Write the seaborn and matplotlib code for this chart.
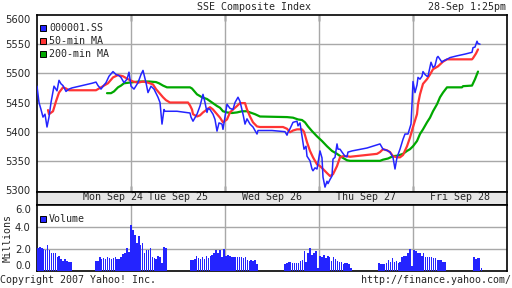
import numpy as np
import pandas as pd
import matplotlib
matplotlib.use("Agg")
import matplotlib.pyplot as plt
from matplotlib.patches import Rectangle
import seaborn as sns

# ---------------- data ----------------
# time axis in chart slots: one trading day = 94 slots, 5 days shown
day_labels = ["Mon Sep 24", "Tue Sep 25", "Wed Sep 26", "Thu Sep 27", "Fri Sep 28"]
day_label_pos = [76, 141, 235, 329, 423]
day_bounds = [94, 188, 282, 376]

price_t = [0, 2, 4, 6, 8, 10, 12, 14, 17, 20, 22, 24, 26, 29, 32, 35, 40, 45, 50, 55,
           59, 61, 64, 67, 69, 72, 76, 79, 82, 84, 87, 90, 92, 94, 97, 101, 104, 106, 109,
           111, 114, 117, 121, 123, 125, 127, 128, 140, 153, 154, 156, 160, 163, 166, 168,
           170, 171, 173, 176, 178, 180, 182, 185, 186, 190, 193, 196, 198, 201, 203, 206,
           208, 210, 213, 216, 220, 221, 235, 248, 250, 251, 253, 256, 260, 261, 263, 265,
           267, 269, 270, 273, 275, 276, 278, 280, 283, 285, 286, 288, 290, 291, 293, 295,
           296, 298, 300, 301, 303, 305, 308, 310, 311, 315, 330, 343, 346, 350, 353, 356,
           358, 360, 363, 366, 368, 371, 374, 375, 376, 378, 380, 381, 383, 385, 386, 388,
           390, 391, 394, 396, 398, 400, 401, 403, 405, 406, 410, 413, 420, 428, 435, 436,
           438, 440, 441, 443]
price_v = [5478, 5450, 5438, 5425, 5430, 5408, 5425, 5450, 5478, 5470, 5488, 5482, 5479,
           5469, 5473, 5475, 5477, 5479, 5481, 5483, 5485, 5479, 5473, 5480, 5484, 5495,
           5503, 5498, 5496, 5493, 5484, 5490, 5502, 5478, 5473, 5484, 5498, 5505, 5484,
           5467, 5478, 5473, 5459, 5450, 5413, 5438, 5435, 5435, 5432, 5425, 5418, 5430,
           5444, 5464, 5450, 5433, 5440, 5438, 5430, 5421, 5401, 5415, 5413, 5404, 5447,
           5440, 5438, 5450, 5459, 5452, 5430, 5413, 5422, 5413, 5408, 5396, 5402, 5402,
           5400, 5394, 5399, 5405, 5416, 5418, 5410, 5415, 5392, 5370, 5375, 5358, 5350,
           5336, 5333, 5338, 5336, 5367, 5355, 5322, 5305, 5315, 5311, 5318, 5324, 5353,
           5356, 5379, 5370, 5370, 5365, 5358, 5357, 5365, 5367, 5372, 5379, 5370, 5368,
           5365, 5356, 5336, 5356, 5370, 5387, 5396, 5396, 5413, 5447, 5486, 5467, 5480,
           5493, 5490, 5495, 5503, 5498, 5495, 5495, 5519, 5510, 5513, 5527, 5529, 5524,
           5519, 5521, 5524, 5527, 5530, 5533, 5536, 5544, 5545, 5555, 5551, 5550]

ma50_t = [11, 12, 16, 19, 22, 26, 29, 32, 59, 62, 66, 71, 76, 81, 86, 91, 96, 101, 106,
          111, 116, 119, 122, 126, 129, 133, 151, 153, 155, 156, 160, 163, 166, 170, 173,
          176, 180, 183, 186, 190, 193, 196, 200, 203, 208, 210, 213, 216, 220, 223, 246,
          250, 253, 256, 260, 265, 267, 270, 273, 276, 280, 283, 286, 290, 293, 296, 300,
          303, 306, 310, 313, 340, 343, 346, 350, 353, 356, 360, 363, 366, 370, 373, 376,
          380, 381, 383, 385, 386, 390, 393, 396, 401, 406, 410, 435, 436, 439, 441]
ma50_v = [5437, 5430, 5435, 5452, 5467, 5476, 5474, 5471, 5471, 5474, 5478, 5483, 5493,
          5497, 5495, 5490, 5486, 5484, 5486, 5484, 5481, 5473, 5467, 5459, 5454, 5450,
          5450, 5445, 5438, 5430, 5426, 5428, 5433, 5438, 5442, 5438, 5430, 5424, 5416,
          5421, 5433, 5438, 5444, 5449, 5449, 5438, 5426, 5416, 5409, 5408, 5408, 5405,
          5399, 5402, 5404, 5404, 5400, 5382, 5367, 5356, 5344, 5341, 5336, 5329, 5324,
          5327, 5341, 5356, 5358, 5358, 5357, 5362, 5365, 5370, 5368, 5365, 5358, 5356,
          5356, 5360, 5375, 5390, 5408, 5430, 5447, 5464, 5476, 5482, 5490, 5498, 5507,
          5512, 5520, 5524, 5524, 5526, 5534, 5541]

ma200_t = [70, 74, 77, 81, 84, 87, 92, 97, 102, 112, 119, 122, 126, 130, 153, 155, 160,
           165, 170, 175, 180, 183, 186, 190, 195, 200, 205, 210, 213, 218, 223, 250, 256,
           261, 265, 268, 271, 275, 280, 285, 290, 295, 300, 305, 310, 313, 343, 346, 351,
           356, 361, 366, 370, 373, 376, 380, 383, 386, 390, 393, 396, 400, 403, 406, 410,
           425, 426, 435, 438, 441]
ma200_v = [5466, 5466, 5469, 5476, 5479, 5483, 5484, 5485, 5486, 5486, 5485, 5483, 5479,
           5476, 5476, 5474, 5464, 5459, 5456, 5450, 5444, 5441, 5435, 5433, 5432, 5433,
           5435, 5435, 5433, 5430, 5426, 5425, 5424, 5421, 5420, 5416, 5409, 5401, 5392,
           5384, 5375, 5367, 5362, 5356, 5351, 5350, 5350, 5352, 5354, 5358, 5359, 5362,
           5367, 5370, 5375, 5384, 5396, 5404, 5416, 5424, 5435, 5447, 5459, 5467, 5476,
           5476, 5478, 5479, 5490, 5503]

# volume (millions) per trading session, sessions start at these slots
session_start = [0, 58, 153, 247, 341, 436]
vol_s1 = [2.1, 2.2, 2.1, 2.0, 1.9, 2.4, 1.9, 1.6, 1.65, 1.6, 1.3, 1.4, 1.1, 0.95, 1.07,
          0.9, 0.85, 0.8]
vol_s2 = [0.92, 0.92, 1.31, 1.07, 1.16, 1.07, 1.31, 1.16, 1.07, 1.16, 1.25, 1.07, 1.07,
          1.31, 1.53, 1.62, 2.08, 1.77, 4.21, 3.76, 3.30, 2.53, 3.15, 2.38, 2.53, 1.68,
          1.92, 1.92, 2.08, 1.31, 1.16, 1.07, 1.37, 1.25, 0.76, 2.17, 2.08]
vol_s3 = [1.01, 1.01, 1.07, 1.37, 1.16, 1.07, 1.31, 1.07, 1.37, 1.16, 1.37, 1.47, 1.62,
          1.92, 1.62, 1.92, 1.25, 1.98, 1.37, 1.47, 1.37, 1.25, 1.31, 1.25, 1.31, 1.25,
          1.25, 1.16, 1.25, 1.01, 0.95, 1.01, 0.92, 1.01, 0.64]
vol_s4 = [0.61, 0.76, 0.82, 0.82, 0.76, 0.70, 0.70, 0.76, 0.95, 1.01, 1.86, 0.85, 1.62,
          2.08, 1.47, 1.62, 1.86, 0.24, 1.37, 1.25, 1.47, 1.16, 1.37, 1.31, 0.95, 1.25,
          1.13, 0.89, 0.82, 0.82, 0.64, 0.70, 0.70, 0.64, 0.24]
vol_s5 = [0.70, 0.64, 0.64, 0.64, 0.76, 1.01, 0.85, 1.16, 0.85, 0.95, 0.70, 0.85, 1.25,
          1.37, 1.37, 1.62, 1.98, 0.46, 1.92, 1.86, 1.68, 1.68, 1.37, 1.62, 1.31, 1.31,
          1.31, 1.25, 1.16, 1.16, 1.01, 1.01, 1.01, 0.85, 0.85]
vol_s6 = [1.25, 1.07, 1.16, 1.16, 0.24]
vol_sessions = [vol_s1, vol_s2, vol_s3, vol_s4, vol_s5, vol_s6]

price_ticks = [5300, 5350, 5400, 5450, 5500, 5550, 5600]
vol_ticks = [0.0, 2.0, 4.0, 6.0]

series_names = ["000001.SS", "50-min MA", "200-min MA"]
BLUE, RED, GREEN = "#2424ff", "#ff3434", "#00a800"
GRID = "#a8a8a8"

# ---------------- figure ----------------
sns.set_style("white")
plt.rcParams["font.family"] = ["DejaVu Sans Mono", "DejaVu Sans"]
W, H = 512, 288
fig = plt.figure(figsize=(W / 100, H / 100), dpi=100)
fig.patch.set_facecolor("white")

def box(x0, y0, x1, y1):
    return [x0 / W, 1 - y1 / H, (x1 - x0) / W, (y1 - y0) / H]

ax = fig.add_axes(box(37, 15, 507, 192))
band = fig.add_axes(box(37, 192, 507, 205))
axv = fig.add_axes(box(37, 205, 507, 271))

df_p = pd.DataFrame({"t": price_t, "v": price_v})
df_50 = pd.DataFrame({"t": ma50_t, "v": ma50_v})
df_200 = pd.DataFrame({"t": ma200_t, "v": ma200_v})

sns.lineplot(data=df_200, x="t", y="v", ax=ax, color=GREEN, linewidth=1.6, estimator=None, zorder=3)
sns.lineplot(data=df_50, x="t", y="v", ax=ax, color=RED, linewidth=1.6, estimator=None, zorder=4)
sns.lineplot(data=df_p, x="t", y="v", ax=ax, color=BLUE, linewidth=1.1, estimator=None, zorder=5)

XMAX = 470
for a in (ax, band, axv):
    a.set_xlim(0, XMAX)
    for s in a.spines.values():
        s.set_color("black")
        s.set_linewidth(1.2)
    a.set_xlabel("")
    a.set_ylabel("")

ax.set_ylim(5296.6, 5600)
ax.set_yticks(price_ticks)
ax.set_yticklabels([str(v) for v in price_ticks], family="DejaVu Sans", fontsize=7.2)
ax.get_yticklabels()[-1].set_va("top")
ax.tick_params(axis="y", direction="out", length=3, color=GRID, width=1, pad=1.5)
ax.set_xticks(day_bounds)
ax.set_xticklabels([])
ax.tick_params(axis="x", direction="in", length=4, color="black", width=1,
               top=True, bottom=True)
for v in price_ticks[1:-1]:
    ax.axhline(v, color=GRID, lw=1, zorder=1)
for d in day_bounds:
    ax.axvline(d, color=GRID, lw=1, zorder=1)

# date band
band.set_facecolor("#e6e6e6")
band.set_yticks([])
band.set_xticks(day_label_pos)
band.set_xticklabels(day_labels, fontsize=7.2)
band.tick_params(axis="x", length=0, pad=-9.5)

# volume
for start, vals in zip(session_start, vol_sessions):
    pos = start + 1.95 * np.arange(len(vals))
    axv.bar(pos, vals, width=1.6, align="edge", color=BLUE, linewidth=0, zorder=3)
axv.set_ylim(0, 6)
axv.set_yticks(vol_ticks)
axv.set_yticklabels([f"{v:.1f}" for v in vol_ticks], family="DejaVu Sans", fontsize=7.2)
axv.get_yticklabels()[-1].set_va("top")
axv.get_yticklabels()[0].set_va("bottom")
axv.tick_params(axis="y", direction="out", length=3, color=GRID, width=1, pad=1.5)
axv.set_xticks([])
for v in vol_ticks[1:-1]:
    axv.axhline(v, color=GRID, lw=1, zorder=1)
for d in day_bounds:
    axv.axvline(d, color=GRID, lw=1, zorder=1)

# legends
def legend_item(x, y, color, label):
    fig.add_artist(Rectangle(((x) / W, 1 - (y + 3) / H), 6 / W, 6 / H,
                             facecolor=color, edgecolor="black", linewidth=0.7,
                             transform=fig.transFigure))
    fig.text((x + 9) / W, 1 - y / H, label, fontsize=7.2, va="center", ha="left")

legend_item(40, 28, BLUE, series_names[0])
legend_item(40, 41, RED, series_names[1])
legend_item(40, 54, GREEN, series_names[2])
legend_item(40, 219, BLUE, "Volume")

fig.text(8 / W, 1 - 238 / H, "Millions", rotation=90, fontsize=7.2, ha="center", va="center")
fig.text(254 / W, 1 - 7 / H, "SSE Composite Index", fontsize=7.2, ha="center", va="center")
fig.text(506 / W, 1 - 7 / H, "28-Sep 1:25pm", fontsize=7.2, ha="right", va="center")
fig.text(0 / W, 1 - 280 / H, "Copyright 2007 Yahoo! Inc.", fontsize=7.2, ha="left", va="center")
fig.text(511 / W, 1 - 280 / H, "http://finance.yahoo.com/", fontsize=7.2, ha="right", va="center")

fig.savefig("out.png", dpi=100)
